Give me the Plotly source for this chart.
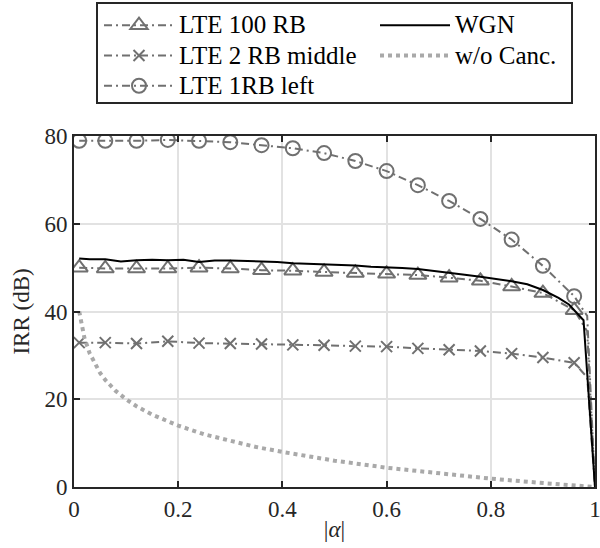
import plotly.graph_objects as go

# ---------------- data ----------------
alpha_mk = [0.01, 0.06, 0.12, 0.18, 0.24, 0.30, 0.36, 0.42, 0.48, 0.54,
            0.60, 0.66, 0.72, 0.78, 0.84, 0.90, 0.96, 0.985, 1.0]
lte100 = [50.0, 49.8, 49.8, 49.8, 50.0, 49.8, 49.4, 49.3, 49.0, 48.8,
          48.6, 48.3, 47.7, 47.0, 45.7, 44.2, 40.3, 35.5, 0.0]
lte2rb = [32.9, 32.9, 32.7, 33.2, 32.8, 32.7, 32.6, 32.4, 32.3, 32.1,
          32.0, 31.6, 31.3, 31.0, 30.4, 29.5, 28.3, 25.0, 0.0]
lte1rb = [78.9, 78.9, 78.9, 79.1, 78.9, 78.6, 77.9, 77.2, 76.1, 74.3,
          72.0, 68.8, 65.2, 61.1, 56.4, 50.4, 43.5, 39.0, 0.0]
n_markers = 17  # last two points are line-only

alpha_wgn = [0.01, 0.03, 0.06, 0.09, 0.12, 0.15, 0.18, 0.21, 0.24, 0.27,
             0.30, 0.33, 0.36, 0.39, 0.42, 0.45, 0.48, 0.51, 0.54, 0.57,
             0.60, 0.63, 0.66, 0.69, 0.72, 0.75, 0.78, 0.81, 0.84, 0.87,
             0.90, 0.93, 0.95, 0.978, 1.0]
wgn = [52.1, 51.9, 51.9, 51.4, 51.7, 51.8, 51.7, 51.8, 51.3, 51.6,
       51.6, 51.5, 51.4, 51.3, 51.0, 50.9, 50.7, 50.6, 50.5, 50.2,
       50.1, 49.9, 49.7, 49.3, 48.8, 48.4, 47.9, 47.4, 46.9, 46.2,
       44.9, 43.1, 41.6, 38.0, 0.0]

alpha_wo = [0.01, 0.015, 0.02, 0.03, 0.04, 0.05, 0.06, 0.08, 0.10, 0.12,
            0.15, 0.20, 0.25, 0.30, 0.35, 0.40, 0.50, 0.60, 0.70, 0.80,
            0.90, 1.0]
wo_canc = [40.0, 36.5, 34.0, 30.5, 28.0, 26.0, 24.4, 21.9, 20.0, 18.4,
           16.5, 14.0, 12.0, 10.5, 9.1, 8.0, 6.0, 4.4, 3.1, 1.9,
           0.9, 0.0]

x_ticks = [0, 0.2, 0.4, 0.6, 0.8, 1]
x_ticktext = ["0", "0.2", "0.4", "0.6", "0.8", "1"]
y_ticks = [0, 20, 40, 60, 80]
y_ticktext = ["0", "20", "40", "60", "80"]

# ---------------- style ----------------
FONT = "Liberation Serif"
GRAY = "#707070"
AX = "#262626"
DASHDOT = "8px,4px,2px,4px"

n_tail = len(alpha_mk) - n_markers
mk_colors = [GRAY] * n_markers + ["rgba(0,0,0,0)"] * n_tail


def leg_name(s):
    return '<span style="font-size:25px">' + s + '</span>'


fig = go.Figure()


def marker_trace(y, name, symbol, size, legend):
    return go.Scatter(
        x=alpha_mk, y=y, name=leg_name(name), mode="lines+markers",
        line=dict(color=GRAY, width=2, dash=DASHDOT),
        marker=dict(symbol=symbol, size=size, color=mk_colors,
                    line=dict(width=2, color=mk_colors)),
        legend=legend,
    )


fig.add_trace(marker_trace(lte100, "LTE 100 RB", "triangle-up-open", 15, "legend"))
fig.add_trace(marker_trace(lte2rb, "LTE 2 RB middle", "x-thin-open", 11, "legend"))
fig.add_trace(marker_trace(lte1rb, "LTE 1RB left", "circle-open", 14, "legend"))
fig.add_trace(go.Scatter(x=alpha_wgn, y=wgn, name=leg_name("WGN"), mode="lines",
                         line=dict(color="black", width=2), legend="legend2"))
fig.add_trace(go.Scatter(x=alpha_wo, y=wo_canc, name=leg_name("w/o Canc."), mode="lines",
                         line=dict(color="#a9a9a9", width=4, dash="dot"),
                         legend="legend2"))

L, R, T, B = 74, 5, 136, 61
W, H = 600, 548
pw, ph = W - L - R, H - T - B


def px_x(p):
    return (p - L) / pw


def px_y(p):
    return (H - B - p) / ph


leg_common = dict(
    font=dict(family=FONT, size=21, color="black"),
    bgcolor="rgba(0,0,0,0)", borderwidth=0, itemwidth=70,
    xanchor="left", yanchor="top", tracegroupgap=0,
)

fig.update_layout(
    width=W, height=H,
    margin=dict(l=L, r=R, t=T, b=B, autoexpand=False),
    plot_bgcolor="white", paper_bgcolor="white",
    font=dict(family=FONT, size=23, color=AX),
    showlegend=True,
    legend=dict(x=px_x(99), y=px_y(5), **leg_common),
    legend2=dict(x=px_x(375), y=px_y(5), **leg_common),
    xaxis=dict(
        range=[0, 1], tickvals=x_ticks, ticktext=x_ticktext,
        showgrid=True, gridcolor="#e2e2e2", gridwidth=1.5,
        zeroline=False, showline=True, linecolor=AX, linewidth=2,
        mirror="ticks", ticks="inside", ticklen=6, tickwidth=2, tickcolor=AX,
        ticklabeloverflow="allow",
        tickfont=dict(family=FONT, size=23, color=AX),
        title=dict(text="|<i>α</i>|", font=dict(family=FONT, size=23, color=AX), standoff=0),
    ),
    yaxis=dict(
        range=[0, 80], tickvals=y_ticks, ticktext=y_ticktext,
        showgrid=True, gridcolor="#e2e2e2", gridwidth=1.5,
        zeroline=False, showline=True, linecolor=AX, linewidth=2,
        mirror="ticks", ticks="inside", ticklen=6, tickwidth=2, tickcolor=AX,
        ticklabeloverflow="allow",
        tickfont=dict(family=FONT, size=23, color=AX),
        title=dict(text="IRR (dB)", font=dict(family=FONT, size=23, color=AX), standoff=8),
    ),
    shapes=[dict(type="rect", xref="paper", yref="paper",
                 x0=px_x(97), x1=px_x(572), y0=px_y(103), y1=px_y(3),
                 line=dict(color=AX, width=2), fillcolor="rgba(0,0,0,0)")],
)

fig.write_html("out.html")
